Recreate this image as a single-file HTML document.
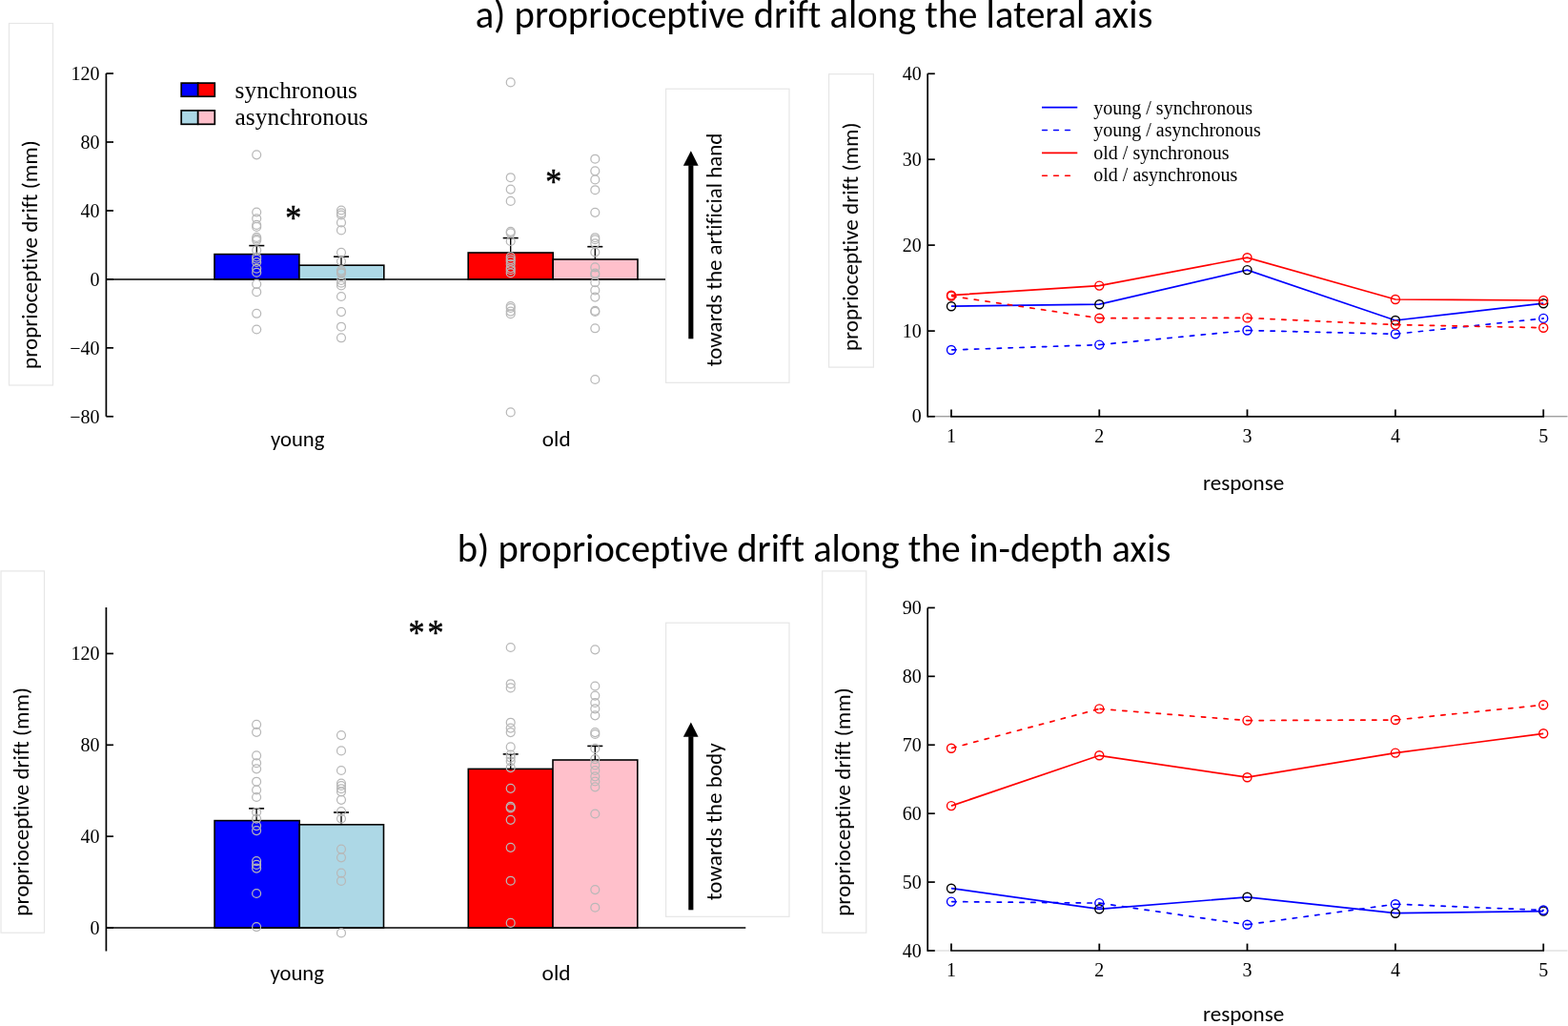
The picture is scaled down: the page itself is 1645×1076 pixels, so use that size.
<!DOCTYPE html>
<html><head><meta charset="utf-8"><title>proprioceptive drift</title>
<style>
html,body{margin:0;padding:0;background:#fff;}
body{width:1645px;height:1076px;overflow:hidden;}
svg{display:block;}
text{fill:#000;font-variant-ligatures:none;font-feature-settings:"liga" 0,"clig" 0;}
</style></head>
<body>
<svg width="1645" height="1076" viewBox="0 0 1645 1076">
<rect width="1645" height="1076" fill="#fff"/>
<text x="498.7" y="29.4" font-family="Carlito, 'Liberation Sans', sans-serif" font-size="40.6" text-anchor="start" textLength="710.7" lengthAdjust="spacingAndGlyphs" >a) proprioceptive drift along the lateral axis</text>
<text x="479.8" y="589.3" font-family="Carlito, 'Liberation Sans', sans-serif" font-size="40.6" text-anchor="start" textLength="748.5" lengthAdjust="spacingAndGlyphs" >b) proprioceptive drift along the in-depth axis</text>
<rect x="9.5" y="24.5" width="46" height="379.5" fill="none" stroke="#e6e6e6" stroke-width="1.2"/>
<text transform="translate(38.6,386.9) rotate(-90)" x="0" y="0" font-family="Carlito, 'Liberation Sans', sans-serif" font-size="23" textLength="239.6" lengthAdjust="spacingAndGlyphs">proprioceptive drift (mm)</text>
<line x1="111.4" y1="77" x2="111.4" y2="436.7" stroke="#000" stroke-width="1.7" />
<line x1="111.4" y1="77.05" x2="119" y2="77.05" stroke="#000" stroke-width="1.7" />
<text x="104.6" y="83.95" font-family="'Liberation Serif', serif" font-size="20" text-anchor="end" >120</text>
<line x1="111.4" y1="149" x2="119" y2="149" stroke="#000" stroke-width="1.7" />
<text x="104.6" y="155.9" font-family="'Liberation Serif', serif" font-size="20" text-anchor="end" >80</text>
<line x1="111.4" y1="220.95" x2="119" y2="220.95" stroke="#000" stroke-width="1.7" />
<text x="104.6" y="227.85" font-family="'Liberation Serif', serif" font-size="20" text-anchor="end" >40</text>
<line x1="111.4" y1="292.9" x2="119" y2="292.9" stroke="#000" stroke-width="1.7" />
<text x="104.6" y="299.8" font-family="'Liberation Serif', serif" font-size="20" text-anchor="end" >0</text>
<line x1="111.4" y1="364.85" x2="119" y2="364.85" stroke="#000" stroke-width="1.7" />
<text x="104.6" y="371.75" font-family="'Liberation Serif', serif" font-size="20" text-anchor="end" >&#8722;40</text>
<line x1="111.4" y1="436.8" x2="119" y2="436.8" stroke="#000" stroke-width="1.7" />
<text x="104.6" y="443.7" font-family="'Liberation Serif', serif" font-size="20" text-anchor="end" >&#8722;80</text>
<rect x="225" y="266.6" width="88.9" height="26.3" fill="#0000ff" stroke="#000" stroke-width="1.6"/>
<rect x="313.9" y="278.2" width="88.9" height="14.7" fill="#add8e6" stroke="#000" stroke-width="1.6"/>
<rect x="491.2" y="265" width="89" height="27.9" fill="#ff0000" stroke="#000" stroke-width="1.6"/>
<rect x="580.2" y="272" width="88.8" height="20.9" fill="#ffc0cb" stroke="#000" stroke-width="1.6"/>
<line x1="111.4" y1="292.9" x2="698.6" y2="292.9" stroke="#000" stroke-width="1.45" />
<line x1="269.3" y1="257.6" x2="269.3" y2="266.6" stroke="#000" stroke-width="1.35" />
<line x1="261.3" y1="257.6" x2="277.3" y2="257.6" stroke="#000" stroke-width="1.6" />
<line x1="358" y1="269.2" x2="358" y2="278.2" stroke="#000" stroke-width="1.35" />
<line x1="350" y1="269.2" x2="366" y2="269.2" stroke="#000" stroke-width="1.6" />
<line x1="535.7" y1="249.6" x2="535.7" y2="265" stroke="#000" stroke-width="1.35" />
<line x1="527.7" y1="249.6" x2="543.7" y2="249.6" stroke="#000" stroke-width="1.6" />
<line x1="624.3" y1="258.7" x2="624.3" y2="272" stroke="#000" stroke-width="1.35" />
<line x1="616.3" y1="258.7" x2="632.3" y2="258.7" stroke="#000" stroke-width="1.6" />
<circle cx="269.2" cy="162.3" r="4.45" fill="none" stroke="#b8b8b8" stroke-width="1.25"/>
<circle cx="269.2" cy="222.5" r="4.45" fill="none" stroke="#b8b8b8" stroke-width="1.25"/>
<circle cx="269.2" cy="229.2" r="4.45" fill="none" stroke="#b8b8b8" stroke-width="1.25"/>
<circle cx="269.2" cy="235.9" r="4.45" fill="none" stroke="#b8b8b8" stroke-width="1.25"/>
<circle cx="269.2" cy="237.9" r="4.45" fill="none" stroke="#b8b8b8" stroke-width="1.25"/>
<circle cx="269.2" cy="248.9" r="4.45" fill="none" stroke="#b8b8b8" stroke-width="1.25"/>
<circle cx="269.2" cy="250.5" r="4.45" fill="none" stroke="#b8b8b8" stroke-width="1.25"/>
<circle cx="269.2" cy="252.1" r="4.45" fill="none" stroke="#b8b8b8" stroke-width="1.25"/>
<circle cx="269.2" cy="262.4" r="4.45" fill="none" stroke="#b8b8b8" stroke-width="1.25"/>
<circle cx="269.2" cy="269.5" r="4.45" fill="none" stroke="#b8b8b8" stroke-width="1.25"/>
<circle cx="269.2" cy="271.8" r="4.45" fill="none" stroke="#b8b8b8" stroke-width="1.25"/>
<circle cx="269.2" cy="275" r="4.45" fill="none" stroke="#b8b8b8" stroke-width="1.25"/>
<circle cx="269.2" cy="281.7" r="4.45" fill="none" stroke="#b8b8b8" stroke-width="1.25"/>
<circle cx="269.2" cy="285.7" r="4.45" fill="none" stroke="#b8b8b8" stroke-width="1.25"/>
<circle cx="269.2" cy="297.9" r="4.45" fill="none" stroke="#b8b8b8" stroke-width="1.25"/>
<circle cx="269.2" cy="306.2" r="4.45" fill="none" stroke="#b8b8b8" stroke-width="1.25"/>
<circle cx="269.2" cy="328.8" r="4.45" fill="none" stroke="#b8b8b8" stroke-width="1.25"/>
<circle cx="269.2" cy="345.5" r="4.45" fill="none" stroke="#b8b8b8" stroke-width="1.25"/>
<circle cx="358" cy="220.5" r="4.45" fill="none" stroke="#b8b8b8" stroke-width="1.25"/>
<circle cx="358" cy="223.4" r="4.45" fill="none" stroke="#b8b8b8" stroke-width="1.25"/>
<circle cx="358" cy="225.5" r="4.45" fill="none" stroke="#b8b8b8" stroke-width="1.25"/>
<circle cx="358" cy="233.4" r="4.45" fill="none" stroke="#b8b8b8" stroke-width="1.25"/>
<circle cx="358" cy="241.4" r="4.45" fill="none" stroke="#b8b8b8" stroke-width="1.25"/>
<circle cx="358" cy="264.8" r="4.45" fill="none" stroke="#b8b8b8" stroke-width="1.25"/>
<circle cx="358" cy="274" r="4.45" fill="none" stroke="#b8b8b8" stroke-width="1.25"/>
<circle cx="358" cy="283.6" r="4.45" fill="none" stroke="#b8b8b8" stroke-width="1.25"/>
<circle cx="358" cy="285.3" r="4.45" fill="none" stroke="#b8b8b8" stroke-width="1.25"/>
<circle cx="358" cy="286.6" r="4.45" fill="none" stroke="#b8b8b8" stroke-width="1.25"/>
<circle cx="358" cy="294" r="4.45" fill="none" stroke="#b8b8b8" stroke-width="1.25"/>
<circle cx="358" cy="296.7" r="4.45" fill="none" stroke="#b8b8b8" stroke-width="1.25"/>
<circle cx="358" cy="299.5" r="4.45" fill="none" stroke="#b8b8b8" stroke-width="1.25"/>
<circle cx="358" cy="311" r="4.45" fill="none" stroke="#b8b8b8" stroke-width="1.25"/>
<circle cx="358" cy="327.1" r="4.45" fill="none" stroke="#b8b8b8" stroke-width="1.25"/>
<circle cx="358" cy="342.7" r="4.45" fill="none" stroke="#b8b8b8" stroke-width="1.25"/>
<circle cx="358" cy="354.3" r="4.45" fill="none" stroke="#b8b8b8" stroke-width="1.25"/>
<circle cx="535.7" cy="86.4" r="4.45" fill="none" stroke="#b8b8b8" stroke-width="1.25"/>
<circle cx="535.7" cy="186.2" r="4.45" fill="none" stroke="#b8b8b8" stroke-width="1.25"/>
<circle cx="535.7" cy="198.6" r="4.45" fill="none" stroke="#b8b8b8" stroke-width="1.25"/>
<circle cx="535.7" cy="210.9" r="4.45" fill="none" stroke="#b8b8b8" stroke-width="1.25"/>
<circle cx="535.7" cy="242.8" r="4.45" fill="none" stroke="#b8b8b8" stroke-width="1.25"/>
<circle cx="535.7" cy="244.3" r="4.45" fill="none" stroke="#b8b8b8" stroke-width="1.25"/>
<circle cx="535.7" cy="253" r="4.45" fill="none" stroke="#b8b8b8" stroke-width="1.25"/>
<circle cx="535.7" cy="269.4" r="4.45" fill="none" stroke="#b8b8b8" stroke-width="1.25"/>
<circle cx="535.7" cy="271.9" r="4.45" fill="none" stroke="#b8b8b8" stroke-width="1.25"/>
<circle cx="535.7" cy="274" r="4.45" fill="none" stroke="#b8b8b8" stroke-width="1.25"/>
<circle cx="535.7" cy="277" r="4.45" fill="none" stroke="#b8b8b8" stroke-width="1.25"/>
<circle cx="535.7" cy="281.1" r="4.45" fill="none" stroke="#b8b8b8" stroke-width="1.25"/>
<circle cx="535.7" cy="283.2" r="4.45" fill="none" stroke="#b8b8b8" stroke-width="1.25"/>
<circle cx="535.7" cy="286.2" r="4.45" fill="none" stroke="#b8b8b8" stroke-width="1.25"/>
<circle cx="535.7" cy="321" r="4.45" fill="none" stroke="#b8b8b8" stroke-width="1.25"/>
<circle cx="535.7" cy="323" r="4.45" fill="none" stroke="#b8b8b8" stroke-width="1.25"/>
<circle cx="535.7" cy="326.6" r="4.45" fill="none" stroke="#b8b8b8" stroke-width="1.25"/>
<circle cx="535.7" cy="329.2" r="4.45" fill="none" stroke="#b8b8b8" stroke-width="1.25"/>
<circle cx="535.7" cy="432.4" r="4.45" fill="none" stroke="#b8b8b8" stroke-width="1.25"/>
<circle cx="624.3" cy="166.7" r="4.45" fill="none" stroke="#b8b8b8" stroke-width="1.25"/>
<circle cx="624.3" cy="179.3" r="4.45" fill="none" stroke="#b8b8b8" stroke-width="1.25"/>
<circle cx="624.3" cy="188.4" r="4.45" fill="none" stroke="#b8b8b8" stroke-width="1.25"/>
<circle cx="624.3" cy="199.2" r="4.45" fill="none" stroke="#b8b8b8" stroke-width="1.25"/>
<circle cx="624.3" cy="222.8" r="4.45" fill="none" stroke="#b8b8b8" stroke-width="1.25"/>
<circle cx="624.3" cy="249.2" r="4.45" fill="none" stroke="#b8b8b8" stroke-width="1.25"/>
<circle cx="624.3" cy="251.2" r="4.45" fill="none" stroke="#b8b8b8" stroke-width="1.25"/>
<circle cx="624.3" cy="255.3" r="4.45" fill="none" stroke="#b8b8b8" stroke-width="1.25"/>
<circle cx="624.3" cy="264.5" r="4.45" fill="none" stroke="#b8b8b8" stroke-width="1.25"/>
<circle cx="624.3" cy="280.4" r="4.45" fill="none" stroke="#b8b8b8" stroke-width="1.25"/>
<circle cx="624.3" cy="286.5" r="4.45" fill="none" stroke="#b8b8b8" stroke-width="1.25"/>
<circle cx="624.3" cy="288" r="4.45" fill="none" stroke="#b8b8b8" stroke-width="1.25"/>
<circle cx="624.3" cy="296.2" r="4.45" fill="none" stroke="#b8b8b8" stroke-width="1.25"/>
<circle cx="624.3" cy="304.4" r="4.45" fill="none" stroke="#b8b8b8" stroke-width="1.25"/>
<circle cx="624.3" cy="311.6" r="4.45" fill="none" stroke="#b8b8b8" stroke-width="1.25"/>
<circle cx="624.3" cy="325.9" r="4.45" fill="none" stroke="#b8b8b8" stroke-width="1.25"/>
<circle cx="624.3" cy="326.9" r="4.45" fill="none" stroke="#b8b8b8" stroke-width="1.25"/>
<circle cx="624.3" cy="344.3" r="4.45" fill="none" stroke="#b8b8b8" stroke-width="1.25"/>
<circle cx="624.3" cy="398" r="4.45" fill="none" stroke="#b8b8b8" stroke-width="1.25"/>
<rect x="698.6" y="93.2" width="129.4" height="308.1" fill="none" stroke="#e6e6e6" stroke-width="1.2"/>
<rect x="722.3" y="173.2" width="5.1" height="182.1" fill="#000"/>
<path d="M724.85 158.3 L732.6 173.7 L716.9 173.7 Z" fill="#000"/>
<text transform="translate(756.6,384.2) rotate(-90)" x="0" y="0" font-family="Carlito, 'Liberation Sans', sans-serif" font-size="23" textLength="244.5" lengthAdjust="spacingAndGlyphs">towards the artificial hand</text>
<text transform="translate(307.8,241.3) scale(1,1.13)" x="0" y="0" font-family="'Liberation Serif', serif" font-size="34" text-anchor="middle" stroke="#000" stroke-width="0.5">*</text>
<text transform="translate(580.7,203.2) scale(1,1.13)" x="0" y="0" font-family="'Liberation Serif', serif" font-size="34" text-anchor="middle" stroke="#000" stroke-width="0.5">*</text>
<text x="284" y="467.7" font-family="Carlito, 'Liberation Sans', sans-serif" font-size="23" text-anchor="start" textLength="56.3" lengthAdjust="spacingAndGlyphs" >young</text>
<text x="568.8" y="468.2" font-family="Carlito, 'Liberation Sans', sans-serif" font-size="23" text-anchor="start" textLength="29.8" lengthAdjust="spacingAndGlyphs" >old</text>
<rect x="190.2" y="87.1" width="17.5" height="14.1" fill="#0000ff" stroke="#000" stroke-width="1.7"/>
<rect x="207.7" y="87.1" width="17.6" height="14.1" fill="#ff0000" stroke="#000" stroke-width="1.7"/>
<rect x="190.2" y="115.9" width="17.5" height="14.4" fill="#add8e6" stroke="#000" stroke-width="1.7"/>
<rect x="207.7" y="115.9" width="17.6" height="14.4" fill="#ffc0cb" stroke="#000" stroke-width="1.7"/>
<text x="246.6" y="103.1" font-family="'Liberation Serif', serif" font-size="25.4" text-anchor="start" >synchronous</text>
<text x="246.6" y="130.5" font-family="'Liberation Serif', serif" font-size="25.4" text-anchor="start" >asynchronous</text>
<rect x="1" y="598.9" width="45.5" height="379.3" fill="none" stroke="#e6e6e6" stroke-width="1.2"/>
<text transform="translate(30.1,960.7) rotate(-90)" x="0" y="0" font-family="Carlito, 'Liberation Sans', sans-serif" font-size="23" textLength="239.6" lengthAdjust="spacingAndGlyphs">proprioceptive drift (mm)</text>
<line x1="111.4" y1="637" x2="111.4" y2="997.5" stroke="#000" stroke-width="1.7" />
<line x1="111.4" y1="685.45" x2="119" y2="685.45" stroke="#000" stroke-width="1.7" />
<text x="104.6" y="692.35" font-family="'Liberation Serif', serif" font-size="20" text-anchor="end" >120</text>
<line x1="111.4" y1="781.3" x2="119" y2="781.3" stroke="#000" stroke-width="1.7" />
<text x="104.6" y="788.2" font-family="'Liberation Serif', serif" font-size="20" text-anchor="end" >80</text>
<line x1="111.4" y1="877.15" x2="119" y2="877.15" stroke="#000" stroke-width="1.7" />
<text x="104.6" y="884.05" font-family="'Liberation Serif', serif" font-size="20" text-anchor="end" >40</text>
<line x1="111.4" y1="973" x2="119" y2="973" stroke="#000" stroke-width="1.7" />
<text x="104.6" y="979.9" font-family="'Liberation Serif', serif" font-size="20" text-anchor="end" >0</text>
<rect x="225.1" y="860.6" width="89.1" height="112.4" fill="#0000ff" stroke="#000" stroke-width="1.6"/>
<rect x="314.2" y="864.8" width="88.3" height="108.2" fill="#add8e6" stroke="#000" stroke-width="1.6"/>
<rect x="491.3" y="806.4" width="88.7" height="166.6" fill="#ff0000" stroke="#000" stroke-width="1.6"/>
<rect x="580" y="797" width="88.8" height="176" fill="#ffc0cb" stroke="#000" stroke-width="1.6"/>
<line x1="111.4" y1="973" x2="782.3" y2="973" stroke="#000" stroke-width="1.45" />
<line x1="269.1" y1="847.9" x2="269.1" y2="860.6" stroke="#000" stroke-width="1.35" />
<line x1="261.1" y1="847.9" x2="277.1" y2="847.9" stroke="#000" stroke-width="1.6" />
<line x1="358" y1="852" x2="358" y2="864.8" stroke="#000" stroke-width="1.35" />
<line x1="350" y1="852" x2="366" y2="852" stroke="#000" stroke-width="1.6" />
<line x1="535.7" y1="790.9" x2="535.7" y2="806.4" stroke="#000" stroke-width="1.35" />
<line x1="527.7" y1="790.9" x2="543.7" y2="790.9" stroke="#000" stroke-width="1.6" />
<line x1="624.3" y1="782.4" x2="624.3" y2="797" stroke="#000" stroke-width="1.35" />
<line x1="616.3" y1="782.4" x2="632.3" y2="782.4" stroke="#000" stroke-width="1.6" />
<circle cx="269.1" cy="759.8" r="4.45" fill="none" stroke="#b8b8b8" stroke-width="1.25"/>
<circle cx="269.1" cy="767.8" r="4.45" fill="none" stroke="#b8b8b8" stroke-width="1.25"/>
<circle cx="269.1" cy="792.4" r="4.45" fill="none" stroke="#b8b8b8" stroke-width="1.25"/>
<circle cx="269.1" cy="800.2" r="4.45" fill="none" stroke="#b8b8b8" stroke-width="1.25"/>
<circle cx="269.1" cy="806.3" r="4.45" fill="none" stroke="#b8b8b8" stroke-width="1.25"/>
<circle cx="269.1" cy="819.7" r="4.45" fill="none" stroke="#b8b8b8" stroke-width="1.25"/>
<circle cx="269.1" cy="828.5" r="4.45" fill="none" stroke="#b8b8b8" stroke-width="1.25"/>
<circle cx="269.1" cy="836" r="4.45" fill="none" stroke="#b8b8b8" stroke-width="1.25"/>
<circle cx="269.1" cy="851.7" r="4.45" fill="none" stroke="#b8b8b8" stroke-width="1.25"/>
<circle cx="269.1" cy="858.6" r="4.45" fill="none" stroke="#b8b8b8" stroke-width="1.25"/>
<circle cx="269.1" cy="866.1" r="4.45" fill="none" stroke="#b8b8b8" stroke-width="1.25"/>
<circle cx="269.1" cy="871.1" r="4.45" fill="none" stroke="#b8b8b8" stroke-width="1.25"/>
<circle cx="269.1" cy="903.1" r="4.45" fill="none" stroke="#b8b8b8" stroke-width="1.25"/>
<circle cx="269.1" cy="906.9" r="4.45" fill="none" stroke="#b8b8b8" stroke-width="1.25"/>
<circle cx="269.1" cy="910.6" r="4.45" fill="none" stroke="#b8b8b8" stroke-width="1.25"/>
<circle cx="269.1" cy="937" r="4.45" fill="none" stroke="#b8b8b8" stroke-width="1.25"/>
<circle cx="269.1" cy="972.1" r="4.45" fill="none" stroke="#b8b8b8" stroke-width="1.25"/>
<circle cx="358" cy="771.1" r="4.45" fill="none" stroke="#b8b8b8" stroke-width="1.25"/>
<circle cx="358" cy="787.4" r="4.45" fill="none" stroke="#b8b8b8" stroke-width="1.25"/>
<circle cx="358" cy="808" r="4.45" fill="none" stroke="#b8b8b8" stroke-width="1.25"/>
<circle cx="358" cy="821.5" r="4.45" fill="none" stroke="#b8b8b8" stroke-width="1.25"/>
<circle cx="358" cy="824" r="4.45" fill="none" stroke="#b8b8b8" stroke-width="1.25"/>
<circle cx="358" cy="827.2" r="4.45" fill="none" stroke="#b8b8b8" stroke-width="1.25"/>
<circle cx="358" cy="830.3" r="4.45" fill="none" stroke="#b8b8b8" stroke-width="1.25"/>
<circle cx="358" cy="838.8" r="4.45" fill="none" stroke="#b8b8b8" stroke-width="1.25"/>
<circle cx="358" cy="851" r="4.45" fill="none" stroke="#b8b8b8" stroke-width="1.25"/>
<circle cx="358" cy="858.6" r="4.45" fill="none" stroke="#b8b8b8" stroke-width="1.25"/>
<circle cx="358" cy="890.6" r="4.45" fill="none" stroke="#b8b8b8" stroke-width="1.25"/>
<circle cx="358" cy="899.3" r="4.45" fill="none" stroke="#b8b8b8" stroke-width="1.25"/>
<circle cx="358" cy="915.6" r="4.45" fill="none" stroke="#b8b8b8" stroke-width="1.25"/>
<circle cx="358" cy="923.9" r="4.45" fill="none" stroke="#b8b8b8" stroke-width="1.25"/>
<circle cx="358" cy="978.4" r="4.45" fill="none" stroke="#b8b8b8" stroke-width="1.25"/>
<circle cx="535.7" cy="679" r="4.45" fill="none" stroke="#b8b8b8" stroke-width="1.25"/>
<circle cx="535.7" cy="717.2" r="4.45" fill="none" stroke="#b8b8b8" stroke-width="1.25"/>
<circle cx="535.7" cy="721.4" r="4.45" fill="none" stroke="#b8b8b8" stroke-width="1.25"/>
<circle cx="535.7" cy="757.7" r="4.45" fill="none" stroke="#b8b8b8" stroke-width="1.25"/>
<circle cx="535.7" cy="763.6" r="4.45" fill="none" stroke="#b8b8b8" stroke-width="1.25"/>
<circle cx="535.7" cy="768.1" r="4.45" fill="none" stroke="#b8b8b8" stroke-width="1.25"/>
<circle cx="535.7" cy="783.4" r="4.45" fill="none" stroke="#b8b8b8" stroke-width="1.25"/>
<circle cx="535.7" cy="791.6" r="4.45" fill="none" stroke="#b8b8b8" stroke-width="1.25"/>
<circle cx="535.7" cy="794.6" r="4.45" fill="none" stroke="#b8b8b8" stroke-width="1.25"/>
<circle cx="535.7" cy="798.3" r="4.45" fill="none" stroke="#b8b8b8" stroke-width="1.25"/>
<circle cx="535.7" cy="805.1" r="4.45" fill="none" stroke="#b8b8b8" stroke-width="1.25"/>
<circle cx="535.7" cy="826.8" r="4.45" fill="none" stroke="#b8b8b8" stroke-width="1.25"/>
<circle cx="535.7" cy="845.9" r="4.45" fill="none" stroke="#b8b8b8" stroke-width="1.25"/>
<circle cx="535.7" cy="847.3" r="4.45" fill="none" stroke="#b8b8b8" stroke-width="1.25"/>
<circle cx="535.7" cy="859.8" r="4.45" fill="none" stroke="#b8b8b8" stroke-width="1.25"/>
<circle cx="535.7" cy="888.8" r="4.45" fill="none" stroke="#b8b8b8" stroke-width="1.25"/>
<circle cx="535.7" cy="923.7" r="4.45" fill="none" stroke="#b8b8b8" stroke-width="1.25"/>
<circle cx="535.7" cy="967.9" r="4.45" fill="none" stroke="#b8b8b8" stroke-width="1.25"/>
<circle cx="624.3" cy="681.3" r="4.45" fill="none" stroke="#b8b8b8" stroke-width="1.25"/>
<circle cx="624.3" cy="719.5" r="4.45" fill="none" stroke="#b8b8b8" stroke-width="1.25"/>
<circle cx="624.3" cy="729.6" r="4.45" fill="none" stroke="#b8b8b8" stroke-width="1.25"/>
<circle cx="624.3" cy="737" r="4.45" fill="none" stroke="#b8b8b8" stroke-width="1.25"/>
<circle cx="624.3" cy="743.3" r="4.45" fill="none" stroke="#b8b8b8" stroke-width="1.25"/>
<circle cx="624.3" cy="750.3" r="4.45" fill="none" stroke="#b8b8b8" stroke-width="1.25"/>
<circle cx="624.3" cy="768.1" r="4.45" fill="none" stroke="#b8b8b8" stroke-width="1.25"/>
<circle cx="624.3" cy="770" r="4.45" fill="none" stroke="#b8b8b8" stroke-width="1.25"/>
<circle cx="624.3" cy="784.9" r="4.45" fill="none" stroke="#b8b8b8" stroke-width="1.25"/>
<circle cx="624.3" cy="796.1" r="4.45" fill="none" stroke="#b8b8b8" stroke-width="1.25"/>
<circle cx="624.3" cy="802.4" r="4.45" fill="none" stroke="#b8b8b8" stroke-width="1.25"/>
<circle cx="624.3" cy="808" r="4.45" fill="none" stroke="#b8b8b8" stroke-width="1.25"/>
<circle cx="624.3" cy="814.3" r="4.45" fill="none" stroke="#b8b8b8" stroke-width="1.25"/>
<circle cx="624.3" cy="819.5" r="4.45" fill="none" stroke="#b8b8b8" stroke-width="1.25"/>
<circle cx="624.3" cy="825.3" r="4.45" fill="none" stroke="#b8b8b8" stroke-width="1.25"/>
<circle cx="624.3" cy="853.5" r="4.45" fill="none" stroke="#b8b8b8" stroke-width="1.25"/>
<circle cx="624.3" cy="933.1" r="4.45" fill="none" stroke="#b8b8b8" stroke-width="1.25"/>
<circle cx="624.3" cy="951.7" r="4.45" fill="none" stroke="#b8b8b8" stroke-width="1.25"/>
<rect x="698.6" y="653.2" width="129.4" height="308.1" fill="none" stroke="#e6e6e6" stroke-width="1.2"/>
<rect x="722.3" y="772.2" width="5.1" height="182.1" fill="#000"/>
<path d="M724.85 757.5 L732.6 772.7 L716.9 772.7 Z" fill="#000"/>
<text transform="translate(756.6,944.2) rotate(-90)" x="0" y="0" font-family="Carlito, 'Liberation Sans', sans-serif" font-size="23" textLength="164.95" lengthAdjust="spacingAndGlyphs">towards the body</text>
<text transform="translate(437,676.2) scale(1,1.13)" x="0" y="0" font-family="'Liberation Serif', serif" font-size="34" text-anchor="middle" stroke="#000" stroke-width="0.5">*</text>
<text transform="translate(457.1,676.2) scale(1,1.13)" x="0" y="0" font-family="'Liberation Serif', serif" font-size="34" text-anchor="middle" stroke="#000" stroke-width="0.5">*</text>
<text x="283.6" y="1028.4" font-family="Carlito, 'Liberation Sans', sans-serif" font-size="23" text-anchor="start" textLength="56.3" lengthAdjust="spacingAndGlyphs" >young</text>
<text x="568.6" y="1028.4" font-family="Carlito, 'Liberation Sans', sans-serif" font-size="23" text-anchor="start" textLength="29.9" lengthAdjust="spacingAndGlyphs" >old</text>
<rect x="869.6" y="77.7" width="46.8" height="307.4" fill="none" stroke="#e6e6e6" stroke-width="1.2"/>
<text transform="translate(899.5,368.1) rotate(-90)" x="0" y="0" font-family="Carlito, 'Liberation Sans', sans-serif" font-size="23" textLength="239.6" lengthAdjust="spacingAndGlyphs">proprioceptive drift (mm)</text>
<line x1="973.2" y1="436.8" x2="998" y2="436.8" stroke="#7a7a7a" stroke-width="1.0" />
<line x1="1619.2" y1="436.8" x2="1644.5" y2="436.8" stroke="#7a7a7a" stroke-width="1.0" />
<line x1="973.2" y1="77.3" x2="973.2" y2="437.6" stroke="#000" stroke-width="1.7" />
<line x1="973.2" y1="77.3" x2="980.8" y2="77.3" stroke="#000" stroke-width="1.7" />
<text x="966.8" y="83.8" font-family="'Liberation Serif', serif" font-size="20" text-anchor="end" >40</text>
<line x1="973.2" y1="167.2" x2="980.8" y2="167.2" stroke="#000" stroke-width="1.7" />
<text x="966.8" y="173.7" font-family="'Liberation Serif', serif" font-size="20" text-anchor="end" >30</text>
<line x1="973.2" y1="257.1" x2="980.8" y2="257.1" stroke="#000" stroke-width="1.7" />
<text x="966.8" y="263.6" font-family="'Liberation Serif', serif" font-size="20" text-anchor="end" >20</text>
<line x1="973.2" y1="347.1" x2="980.8" y2="347.1" stroke="#000" stroke-width="1.7" />
<text x="966.8" y="353.6" font-family="'Liberation Serif', serif" font-size="20" text-anchor="end" >10</text>
<line x1="973.2" y1="436.8" x2="980.8" y2="436.8" stroke="#000" stroke-width="1.7" />
<text x="966.8" y="443.3" font-family="'Liberation Serif', serif" font-size="20" text-anchor="end" >0</text>
<line x1="997.2" y1="436.8" x2="1620" y2="436.8" stroke="#000" stroke-width="1.65" />
<line x1="998" y1="429.4" x2="998" y2="436.8" stroke="#000" stroke-width="1.8" />
<text x="998" y="463.5" font-family="'Liberation Serif', serif" font-size="20" text-anchor="middle" >1</text>
<line x1="1153.3" y1="429.4" x2="1153.3" y2="436.8" stroke="#000" stroke-width="1.8" />
<text x="1153.3" y="463.5" font-family="'Liberation Serif', serif" font-size="20" text-anchor="middle" >2</text>
<line x1="1308.5" y1="429.4" x2="1308.5" y2="436.8" stroke="#000" stroke-width="1.8" />
<text x="1308.5" y="463.5" font-family="'Liberation Serif', serif" font-size="20" text-anchor="middle" >3</text>
<line x1="1463.9" y1="429.4" x2="1463.9" y2="436.8" stroke="#000" stroke-width="1.8" />
<text x="1463.9" y="463.5" font-family="'Liberation Serif', serif" font-size="20" text-anchor="middle" >4</text>
<line x1="1619.2" y1="429.4" x2="1619.2" y2="436.8" stroke="#000" stroke-width="1.8" />
<text x="1619.2" y="463.5" font-family="'Liberation Serif', serif" font-size="20" text-anchor="middle" >5</text>
<text x="1261.9" y="513.8" font-family="Carlito, 'Liberation Sans', sans-serif" font-size="23" text-anchor="start" textLength="85.3" lengthAdjust="spacingAndGlyphs" >response</text>
<polyline points="998,321.2 1153.3,319.2 1308.5,283.1 1463.9,336 1619.2,318.2" fill="none" stroke="#0000ff" stroke-width="1.7"/>
<circle cx="998" cy="321.2" r="4.5" fill="none" stroke="#000000" stroke-width="1.4"/>
<circle cx="1153.3" cy="319.2" r="4.5" fill="none" stroke="#000000" stroke-width="1.4"/>
<circle cx="1308.5" cy="283.1" r="4.5" fill="none" stroke="#000000" stroke-width="1.4"/>
<circle cx="1463.9" cy="336" r="4.5" fill="none" stroke="#000000" stroke-width="1.4"/>
<circle cx="1619.2" cy="318.2" r="4.5" fill="none" stroke="#000000" stroke-width="1.4"/>
<line x1="998" y1="367" x2="1153.3" y2="361.6" stroke="#0000ff" stroke-width="1.7" stroke-dasharray="4.3 7.55" stroke-dashoffset="-0.8" stroke-linecap="round"/>
<line x1="1153.3" y1="361.6" x2="1308.5" y2="346.5" stroke="#0000ff" stroke-width="1.7" stroke-dasharray="4.3 7.55" stroke-dashoffset="-0.8" stroke-linecap="round"/>
<line x1="1308.5" y1="346.5" x2="1463.9" y2="350.3" stroke="#0000ff" stroke-width="1.7" stroke-dasharray="4.3 7.55" stroke-dashoffset="-0.8" stroke-linecap="round"/>
<line x1="1463.9" y1="350.3" x2="1619.2" y2="333.9" stroke="#0000ff" stroke-width="1.7" stroke-dasharray="4.3 7.55" stroke-dashoffset="-0.8" stroke-linecap="round"/>
<circle cx="998" cy="367" r="4.5" fill="none" stroke="#0000ff" stroke-width="1.4"/>
<circle cx="1153.3" cy="361.6" r="4.5" fill="none" stroke="#0000ff" stroke-width="1.4"/>
<circle cx="1308.5" cy="346.5" r="4.5" fill="none" stroke="#0000ff" stroke-width="1.4"/>
<circle cx="1463.9" cy="350.3" r="4.5" fill="none" stroke="#0000ff" stroke-width="1.4"/>
<circle cx="1619.2" cy="333.9" r="4.5" fill="none" stroke="#0000ff" stroke-width="1.4"/>
<polyline points="998,309.6 1153.3,299.6 1308.5,270.2 1463.9,314 1619.2,315" fill="none" stroke="#ff0000" stroke-width="1.7"/>
<circle cx="998" cy="309.6" r="4.5" fill="none" stroke="#ff0000" stroke-width="1.4"/>
<circle cx="1153.3" cy="299.6" r="4.5" fill="none" stroke="#ff0000" stroke-width="1.4"/>
<circle cx="1308.5" cy="270.2" r="4.5" fill="none" stroke="#ff0000" stroke-width="1.4"/>
<circle cx="1463.9" cy="314" r="4.5" fill="none" stroke="#ff0000" stroke-width="1.4"/>
<circle cx="1619.2" cy="315" r="4.5" fill="none" stroke="#ff0000" stroke-width="1.4"/>
<line x1="998" y1="310.5" x2="1153.3" y2="333.7" stroke="#ff0000" stroke-width="1.7" stroke-dasharray="4.3 7.55" stroke-dashoffset="-0.8" stroke-linecap="round"/>
<line x1="1153.3" y1="333.7" x2="1308.5" y2="333.4" stroke="#ff0000" stroke-width="1.7" stroke-dasharray="4.3 7.55" stroke-dashoffset="-0.8" stroke-linecap="round"/>
<line x1="1308.5" y1="333.4" x2="1463.9" y2="340.6" stroke="#ff0000" stroke-width="1.7" stroke-dasharray="4.3 7.55" stroke-dashoffset="-0.8" stroke-linecap="round"/>
<line x1="1463.9" y1="340.6" x2="1619.2" y2="343.7" stroke="#ff0000" stroke-width="1.7" stroke-dasharray="4.3 7.55" stroke-dashoffset="-0.8" stroke-linecap="round"/>
<circle cx="998" cy="310.5" r="4.5" fill="none" stroke="#ff0000" stroke-width="1.4"/>
<circle cx="1153.3" cy="333.7" r="4.5" fill="none" stroke="#ff0000" stroke-width="1.4"/>
<circle cx="1308.5" cy="333.4" r="4.5" fill="none" stroke="#ff0000" stroke-width="1.4"/>
<circle cx="1463.9" cy="340.6" r="4.5" fill="none" stroke="#ff0000" stroke-width="1.4"/>
<circle cx="1619.2" cy="343.7" r="4.5" fill="none" stroke="#ff0000" stroke-width="1.4"/>
<line x1="1093" y1="112.7" x2="1130.3" y2="112.7" stroke="#0000ff" stroke-width="1.7" />
<text x="1147.3" y="119.5" font-family="'Liberation Serif', serif" font-size="20" text-anchor="start" >young / synchronous</text>
<line x1="1093.6" y1="136.57" x2="1098.4" y2="136.57" stroke="#0000ff" stroke-width="1.6" stroke-linecap="round"/>
<line x1="1105.6" y1="136.57" x2="1110.4" y2="136.57" stroke="#0000ff" stroke-width="1.6" stroke-linecap="round"/>
<line x1="1117.6" y1="136.57" x2="1122.4" y2="136.57" stroke="#0000ff" stroke-width="1.6" stroke-linecap="round"/>
<text x="1147.3" y="143.1" font-family="'Liberation Serif', serif" font-size="20" text-anchor="start" >young / asynchronous</text>
<line x1="1093" y1="160.44" x2="1130.3" y2="160.44" stroke="#ff0000" stroke-width="1.7" />
<text x="1147.3" y="166.7" font-family="'Liberation Serif', serif" font-size="20" text-anchor="start" >old / synchronous</text>
<line x1="1093.6" y1="184.31" x2="1098.4" y2="184.31" stroke="#ff0000" stroke-width="1.6" stroke-linecap="round"/>
<line x1="1105.6" y1="184.31" x2="1110.4" y2="184.31" stroke="#ff0000" stroke-width="1.6" stroke-linecap="round"/>
<line x1="1117.6" y1="184.31" x2="1122.4" y2="184.31" stroke="#ff0000" stroke-width="1.6" stroke-linecap="round"/>
<text x="1147.3" y="190.3" font-family="'Liberation Serif', serif" font-size="20" text-anchor="start" >old / asynchronous</text>
<rect x="862.7" y="598.9" width="46.1" height="379.3" fill="none" stroke="#e6e6e6" stroke-width="1.2"/>
<text transform="translate(891.9,960.8) rotate(-90)" x="0" y="0" font-family="Carlito, 'Liberation Sans', sans-serif" font-size="23" textLength="239.6" lengthAdjust="spacingAndGlyphs">proprioceptive drift (mm)</text>
<line x1="973.2" y1="997" x2="998" y2="997" stroke="#d2d2d2" stroke-width="1.0" />
<line x1="1619.2" y1="997" x2="1644.5" y2="997" stroke="#d2d2d2" stroke-width="1.0" />
<line x1="973.2" y1="637.4" x2="973.2" y2="997.8" stroke="#000" stroke-width="1.7" />
<line x1="973.2" y1="637.4" x2="980.8" y2="637.4" stroke="#000" stroke-width="1.7" />
<text x="966.8" y="643.9" font-family="'Liberation Serif', serif" font-size="20" text-anchor="end" >90</text>
<line x1="973.2" y1="709.32" x2="980.8" y2="709.32" stroke="#000" stroke-width="1.7" />
<text x="966.8" y="715.82" font-family="'Liberation Serif', serif" font-size="20" text-anchor="end" >80</text>
<line x1="973.2" y1="781.24" x2="980.8" y2="781.24" stroke="#000" stroke-width="1.7" />
<text x="966.8" y="787.74" font-family="'Liberation Serif', serif" font-size="20" text-anchor="end" >70</text>
<line x1="973.2" y1="853.16" x2="980.8" y2="853.16" stroke="#000" stroke-width="1.7" />
<text x="966.8" y="859.66" font-family="'Liberation Serif', serif" font-size="20" text-anchor="end" >60</text>
<line x1="973.2" y1="925.08" x2="980.8" y2="925.08" stroke="#000" stroke-width="1.7" />
<text x="966.8" y="931.58" font-family="'Liberation Serif', serif" font-size="20" text-anchor="end" >50</text>
<line x1="973.2" y1="997" x2="980.8" y2="997" stroke="#000" stroke-width="1.7" />
<text x="966.8" y="1003.5" font-family="'Liberation Serif', serif" font-size="20" text-anchor="end" >40</text>
<line x1="997.2" y1="997" x2="1620" y2="997" stroke="#000" stroke-width="1.65" />
<line x1="998" y1="989.6" x2="998" y2="997" stroke="#000" stroke-width="1.8" />
<text x="998" y="1023.7" font-family="'Liberation Serif', serif" font-size="20" text-anchor="middle" >1</text>
<line x1="1153.3" y1="989.6" x2="1153.3" y2="997" stroke="#000" stroke-width="1.8" />
<text x="1153.3" y="1023.7" font-family="'Liberation Serif', serif" font-size="20" text-anchor="middle" >2</text>
<line x1="1308.5" y1="989.6" x2="1308.5" y2="997" stroke="#000" stroke-width="1.8" />
<text x="1308.5" y="1023.7" font-family="'Liberation Serif', serif" font-size="20" text-anchor="middle" >3</text>
<line x1="1463.9" y1="989.6" x2="1463.9" y2="997" stroke="#000" stroke-width="1.8" />
<text x="1463.9" y="1023.7" font-family="'Liberation Serif', serif" font-size="20" text-anchor="middle" >4</text>
<line x1="1619.2" y1="989.6" x2="1619.2" y2="997" stroke="#000" stroke-width="1.8" />
<text x="1619.2" y="1023.7" font-family="'Liberation Serif', serif" font-size="20" text-anchor="middle" >5</text>
<text x="1261.9" y="1070.8" font-family="Carlito, 'Liberation Sans', sans-serif" font-size="23" text-anchor="start" textLength="85.3" lengthAdjust="spacingAndGlyphs" >response</text>
<polyline points="998,931.7 1153.3,953.3 1308.5,940.8 1463.9,957.7 1619.2,955.6" fill="none" stroke="#0000ff" stroke-width="1.7"/>
<circle cx="998" cy="931.7" r="4.5" fill="none" stroke="#000000" stroke-width="1.4"/>
<circle cx="1153.3" cy="953.3" r="4.5" fill="none" stroke="#000000" stroke-width="1.4"/>
<circle cx="1308.5" cy="940.8" r="4.5" fill="none" stroke="#000000" stroke-width="1.4"/>
<circle cx="1463.9" cy="957.7" r="4.5" fill="none" stroke="#000000" stroke-width="1.4"/>
<circle cx="1619.2" cy="955.6" r="4.5" fill="none" stroke="#000000" stroke-width="1.4"/>
<line x1="998" y1="945.6" x2="1153.3" y2="947.1" stroke="#0000ff" stroke-width="1.7" stroke-dasharray="4.3 7.55" stroke-dashoffset="-0.8" stroke-linecap="round"/>
<line x1="1153.3" y1="947.1" x2="1308.5" y2="969.7" stroke="#0000ff" stroke-width="1.7" stroke-dasharray="4.3 7.55" stroke-dashoffset="-0.8" stroke-linecap="round"/>
<line x1="1308.5" y1="969.7" x2="1463.9" y2="948.2" stroke="#0000ff" stroke-width="1.7" stroke-dasharray="4.3 7.55" stroke-dashoffset="-0.8" stroke-linecap="round"/>
<line x1="1463.9" y1="948.2" x2="1619.2" y2="954.5" stroke="#0000ff" stroke-width="1.7" stroke-dasharray="4.3 7.55" stroke-dashoffset="-0.8" stroke-linecap="round"/>
<circle cx="998" cy="945.6" r="4.5" fill="none" stroke="#0000ff" stroke-width="1.4"/>
<circle cx="1153.3" cy="947.1" r="4.5" fill="none" stroke="#0000ff" stroke-width="1.4"/>
<circle cx="1308.5" cy="969.7" r="4.5" fill="none" stroke="#0000ff" stroke-width="1.4"/>
<circle cx="1463.9" cy="948.2" r="4.5" fill="none" stroke="#0000ff" stroke-width="1.4"/>
<circle cx="1619.2" cy="954.5" r="4.5" fill="none" stroke="#0000ff" stroke-width="1.4"/>
<polyline points="998,845.1 1153.3,792.3 1308.5,815.2 1463.9,789.6 1619.2,769.3" fill="none" stroke="#ff0000" stroke-width="1.7"/>
<circle cx="998" cy="845.1" r="4.5" fill="none" stroke="#ff0000" stroke-width="1.4"/>
<circle cx="1153.3" cy="792.3" r="4.5" fill="none" stroke="#ff0000" stroke-width="1.4"/>
<circle cx="1308.5" cy="815.2" r="4.5" fill="none" stroke="#ff0000" stroke-width="1.4"/>
<circle cx="1463.9" cy="789.6" r="4.5" fill="none" stroke="#ff0000" stroke-width="1.4"/>
<circle cx="1619.2" cy="769.3" r="4.5" fill="none" stroke="#ff0000" stroke-width="1.4"/>
<line x1="998" y1="784.7" x2="1153.3" y2="743.4" stroke="#ff0000" stroke-width="1.7" stroke-dasharray="4.3 7.55" stroke-dashoffset="-0.8" stroke-linecap="round"/>
<line x1="1153.3" y1="743.4" x2="1308.5" y2="755.6" stroke="#ff0000" stroke-width="1.7" stroke-dasharray="4.3 7.55" stroke-dashoffset="-0.8" stroke-linecap="round"/>
<line x1="1308.5" y1="755.6" x2="1463.9" y2="755" stroke="#ff0000" stroke-width="1.7" stroke-dasharray="4.3 7.55" stroke-dashoffset="-0.8" stroke-linecap="round"/>
<line x1="1463.9" y1="755" x2="1619.2" y2="739.3" stroke="#ff0000" stroke-width="1.7" stroke-dasharray="4.3 7.55" stroke-dashoffset="-0.8" stroke-linecap="round"/>
<circle cx="998" cy="784.7" r="4.5" fill="none" stroke="#ff0000" stroke-width="1.4"/>
<circle cx="1153.3" cy="743.4" r="4.5" fill="none" stroke="#ff0000" stroke-width="1.4"/>
<circle cx="1308.5" cy="755.6" r="4.5" fill="none" stroke="#ff0000" stroke-width="1.4"/>
<circle cx="1463.9" cy="755" r="4.5" fill="none" stroke="#ff0000" stroke-width="1.4"/>
<circle cx="1619.2" cy="739.3" r="4.5" fill="none" stroke="#ff0000" stroke-width="1.4"/>
</svg>
</body></html>
